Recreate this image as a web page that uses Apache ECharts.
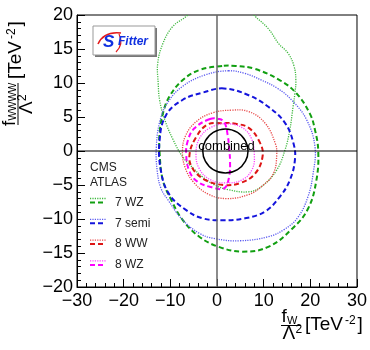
<!DOCTYPE html>
<html>
<head>
<meta charset="utf-8">
<script src="https://cdn.jsdelivr.net/npm/echarts@6/dist/echarts.min.js"></script>
<style>
  html, body { margin: 0; padding: 0; background: #fff; }
  #chart { width: 370px; height: 350px; }
</style>
</head>
<body>
<div id="chart"></div>
<script>
// axis ranges (fW/L^2 horizontally, fWWW/L^2 vertically)
const xRange = [-30, 30]
const xStep = 10
const yRange = [-20, 20]
const yStep = 5

// contour points, [fW, fWWW]
const cms7WZ = [
  [-6.3, 20], [-9.5, 18.3], [-11.6, 15.8], [-12.7, 12.9], [-12.6, 10.0], [-12.3, 7.5],
  [-11.2, 4.6], [-9.5, 1.8], [-7.4, -0.8], [-5.0, -2.6], [-3.1, -3.8], [-0.5, -5.0],
  [2.5, -5.7], [6.8, -6.0], [9.6, -5.2], [12.8, -2.8], [14.6, 0.2], [15.6, 3.1],
  [16.3, 6.5], [16.7, 8.5], [16.9, 10.4], [16.5, 12.5], [15.2, 14.4], [13.2, 15.8],
  [11.0, 18.0], [7.9, 20], [4.0, 23], [-3.0, 23]
]
const atlas7WZ = [
  [1.1, 12.5], [-3.8, 11.9], [-7.4, 10.4], [-10.2, 8.0], [-11.6, 5.5], [-12.3, 2.6],
  [-12.3, -0.3], [-11.6, -4.3], [-9.8, -7.2], [-7.4, -10.1], [-3.8, -12.6], [0.4, -14.1],
  [5.5, -14.8], [11.0, -14.1], [16.0, -11.5], [19.5, -8.5], [21.3, -4.3], [21.7, 0],
  [21.0, 3.1], [19.9, 5.5], [17.0, 8.5], [13.5, 10.4], [8.0, 12.1], [4.0, 12.5]
]
const cms7semi = [
  [2.5, 11.8], [-2.5, 11.2], [-7.4, 9.5], [-10.5, 7.2], [-12.2, 4.5], [-13.0, 0.6],
  [-12.8, -3.0], [-12.0, -5.5], [-10.5, -7.2], [-7.4, -10.1], [-3.8, -12.1], [-0.4, -12.9],
  [5.0, -13.2], [11.0, -12.6], [14.5, -11.5], [17.4, -9.7], [19.5, -6.7], [20.6, -3.3],
  [21.0, 0.6], [19.2, 4.6], [16.0, 7.5], [13.0, 9.2], [9.6, 10.4], [6.0, 11.4]
]
const atlas7semi = [
  [1.5, 9.2], [-3.0, 8.6], [-7.4, 7.5], [-10.9, 5.3], [-12.3, 1.6], [-12.0, -3.0],
  [-10.2, -6.4], [-6.6, -8.7], [-3.1, -9.9], [1.5, -10.2], [6.0, -9.9], [10.3, -8.9],
  [13.5, -6.7], [15.6, -4.3], [16.7, -1.3], [16.4, 1.1], [14.6, 4.1], [11.0, 6.5], [6.8, 8.2]
]
const cms8WW = [
  [3.0, 6.0], [-1.0, 5.6], [-4.5, 4.3], [-6.7, 2.3], [-7.4, 0], [-6.8, -2.5],
  [-5.0, -4.6], [-2.0, -6.3], [2.0, -7.0], [6.8, -6.4], [9.6, -5.2], [12.1, -3.3],
  [12.8, -0.6], [12.5, 1.1], [10.3, 4.1], [6.8, 5.8]
]
const atlas8WW = [
  [1.0, 4.1], [-2.0, 3.9], [-4.5, 2.0], [-5.9, -0.6], [-5.2, -2.6], [-2.4, -4.3],
  [1.5, -5.0], [5.0, -4.7], [8.2, -3.3], [9.8, -0.6], [9.0, 1.5], [6.8, 3.4], [4.0, 4.0]
]
const cms8WZ = [
  [2.0, 4.0], [-1.5, 3.4], [-3.8, 1.8], [-4.5, -0.5], [-3.8, -2.6], [-1.5, -4.2],
  [2.0, -4.7], [5.5, -4.2], [7.6, -2.6], [8.0, -0.5], [7.4, 1.8], [5.5, 3.4]
]
const atlas8WZ = [
  [-1.5, 4.7], [-4.9, 3.3], [-6.3, 1.4], [-6.6, -0.6], [-5.9, -3.0], [-4.2, -4.5],
  [-1.3, -5.3], [1.5, -5.5], [2.6, -3.8], [2.8, -1.6], [2.6, 0.4], [2.3, 2.3],
  [1.6, 4.2], [0.5, 4.7]
]
const combined = [
  [1.8, 3.25], [-0.8, 2.75], [-2.5, 1.5], [-3.05, 0], [-2.5, -1.5], [-0.8, -2.75],
  [1.8, -3.25], [4.4, -2.75], [6.1, -1.5], [6.65, 0], [6.1, 1.5], [4.4, 2.75]
]
const zeroLines = [[[0, -20], [0, 20]], [[-30, 0], [30, 0]]]

const legendNames = ['7 WZ', '7 semi', '8 WW', '8 WZ']
const experiments = ['CMS', 'ATLAS']

const FONT = 'Liberation Sans, Arial, sans-serif'
const colors = {
  '7 WZ': ['#3fb83f', '#119f11'],
  '7 semi': ['#5a5af0', '#1414dc'],
  '8 WW': ['#e84848', '#dd1515'],
  '8 WZ': ['#ff44ff', '#ff00ff'],
}
const dotted = (c) => ({ stroke: c, lineWidth: 1.3, lineDash: [1.2, 1.2] })
const dashed = (c) => ({ stroke: c, lineWidth: 2, lineDash: [5, 3] })

function contour(name, pts, style, z) {
  return {
    name: name,
    type: 'custom',
    clip: true,
    z: z || 2,
    silent: true,
    data: pts,
    encode: { x: 0, y: 1 },
    renderItem: (params, api) => {
      if (params.dataIndex !== 0) return null
      return {
        type: 'polygon',
        shape: { points: pts.map((p) => api.coord(p)), smooth: 0.4 },
        style: Object.assign({ fill: 'none' }, style),
      }
    },
  }
}

const tickFmt = (v) => String(v).replace('-', '\u2212')

function txt(x, y, text, size, extra) {
  return Object.assign({
    type: 'text', x: x, y: y, silent: true,
    style: {
      text: text, font: size + 'px ' + FONT, fill: '#000',
      align: 'left', verticalAlign: 'middle', textAlign: 'left', textVerticalAlign: 'middle',
    },
  }, extra || {})
}

// axis titles as small fractions
const xTitle = {
  type: 'group', x: 291, y: 325.5, silent: true,
  children: [
    txt(-9.5, -8.5, 'f', 19),
    txt(-4, -5, 'W', 11),
    { type: 'line', shape: { x1: -10, y1: 0, x2: 10, y2: 0 }, style: { stroke: '#000', lineWidth: 1 } },
    txt(-8.5, 8.5, '\u039b', 19),
    txt(4.5, 4.5, '2', 12),
    txt(14, -0.5, '[TeV', 19),
    txt(54, -4.5, '-2', 12),
    txt(66.5, -0.5, ']', 19),
  ],
}
const yTitle = {
  type: 'group', x: 18, y: 104, rotation: Math.PI / 2, silent: true,
  children: [
    txt(-22, -8.5, 'f', 19),
    txt(-16.5, -5, 'WWWW', 10),
    { type: 'line', shape: { x1: -21, y1: 0, x2: 21, y2: 0 }, style: { stroke: '#000', lineWidth: 1 } },
    txt(-10, 8.5, '\u039b', 19),
    txt(3, 4.5, '2', 12),
    txt(25, -2.5, '[TeV', 19),
    txt(65, -6.5, '-2', 12),
    txt(77.5, -2.5, ']', 19),
  ],
}

// legend: CMS dotted on top, ATLAS dashed below
const legendEls = [
  txt(90, 167.5, experiments[0], 12, { style: { text: experiments[0], font: '12px ' + FONT, fill: '#222', verticalAlign: 'middle' } }),
  txt(90, 182.5, experiments[1], 12, { style: { text: experiments[1], font: '12px ' + FONT, fill: '#222', verticalAlign: 'middle' } }),
]
legendNames.forEach((n, i) => {
  const cy = 202.5 + i * 20.8
  legendEls.push({ type: 'line', silent: true, shape: { x1: 90, y1: cy - 4, x2: 106, y2: cy - 4 }, style: dotted(colors[n][0]) })
  legendEls.push({ type: 'line', silent: true, shape: { x1: 90, y1: cy, x2: 106, y2: cy }, style: dashed(colors[n][1]) })
  legendEls.push({
    type: 'text', x: 115, y: cy, silent: true,
    style: { text: n, font: '12px ' + FONT, fill: '#222', verticalAlign: 'middle', textVerticalAlign: 'middle' },
  })
})

// S-Fitter logo box
const logo = {
  type: 'group', silent: true, z: 20,
  children: [
    { type: 'rect', shape: { x: 95, y: 28, width: 62, height: 29 }, style: { fill: '#777' } },
    { type: 'rect', shape: { x: 93, y: 26, width: 62, height: 29 }, style: { fill: '#fff', stroke: '#999', lineWidth: 1 } },
    { type: 'bezierCurve', shape: { x1: 98, y1: 44, cpx1: 104, cpy1: 31, x2: 121, y2: 33 }, style: { fill: 'none', stroke: '#e31b1b', lineWidth: 1.6 } },
    { type: 'bezierCurve', shape: { x1: 119, y1: 34, cpx1: 124, cpy1: 44, x2: 116, y2: 52 }, style: { fill: 'none', stroke: '#e31b1b', lineWidth: 1.2 } },
    { type: 'text', x: 103, y: 42, style: { text: 'S', font: 'italic bold 17px ' + FONT, fill: '#1030e0', verticalAlign: 'middle', textVerticalAlign: 'middle' } },
    { type: 'text', x: 118, y: 41.5, style: { text: 'Fitter', font: 'italic bold 12px ' + FONT, fill: '#1030e0', verticalAlign: 'middle', textVerticalAlign: 'middle' } },
  ],
}

const option = {
  animation: false,
  backgroundColor: '#fff',
  grid: {
    left: 77, right: 11, top: 15, bottom: 63,
    show: true, borderColor: '#000', borderWidth: 1, backgroundColor: 'transparent',
  },
  xAxis: {
    type: 'value', min: xRange[0], max: xRange[1], interval: xStep,
    axisLine: { show: true, onZero: false, lineStyle: { color: '#000', width: 1 } },
    axisTick: { show: true, inside: true, length: 8, lineStyle: { color: '#000' } },
    minorTick: { show: true, splitNumber: 5, length: 4, lineStyle: { color: '#000' } },
    splitLine: { show: false },
    axisLabel: { color: '#000', fontFamily: FONT, fontSize: 18, margin: 5, formatter: tickFmt },
  },
  yAxis: {
    type: 'value', min: yRange[0], max: yRange[1], interval: yStep,
    axisLine: { show: true, onZero: false, lineStyle: { color: '#000', width: 1 } },
    axisTick: { show: true, inside: true, length: 8, lineStyle: { color: '#000' } },
    minorTick: { show: true, splitNumber: 5, length: 4, lineStyle: { color: '#000' } },
    splitLine: { show: false },
    axisLabel: { color: '#000', fontFamily: FONT, fontSize: 18, margin: 4, formatter: tickFmt },
  },
  series: [
    contour('CMS 7 WZ', cms7WZ, dotted(colors['7 WZ'][0])),
    contour('ATLAS 7 WZ', atlas7WZ, dashed(colors['7 WZ'][1])),
    contour('CMS 7 semi', cms7semi, dotted(colors['7 semi'][0])),
    contour('ATLAS 7 semi', atlas7semi, dashed(colors['7 semi'][1])),
    contour('CMS 8 WW', cms8WW, dotted(colors['8 WW'][0])),
    contour('ATLAS 8 WW', atlas8WW, dashed(colors['8 WW'][1])),
    contour('CMS 8 WZ', cms8WZ, dotted(colors['8 WZ'][0])),
    contour('ATLAS 8 WZ', atlas8WZ, dashed(colors['8 WZ'][1])),
    {
      name: 'axes at zero',
      type: 'custom',
      z: 3,
      silent: true,
      data: zeroLines,
      renderItem: (params, api) => {
        const seg = zeroLines[params.dataIndex]
        const a = api.coord(seg[0])
        const b = api.coord(seg[1])
        const vertical = params.dataIndex === 0
        return {
          type: 'line',
          shape: { x1: a[0], y1: a[1], x2: b[0], y2: b[1] },
          style: { stroke: vertical ? '#666' : '#000', lineWidth: vertical ? 1.5 : 1 },
        }
      },
    },
    contour('combined', combined, { stroke: '#000', lineWidth: 1.5 }, 4),
  ],
  graphic: [
    xTitle,
    yTitle,
    { type: 'group', silent: true, z: 10, children: legendEls },
    logo,
    txt(226.5, 146, 'combined', 13, {
      z: 10,
      style: { text: 'combined', font: '13px ' + FONT, fill: '#000', align: 'center', textAlign: 'center', verticalAlign: 'middle', textVerticalAlign: 'middle' },
    }),
  ],
}

const dom = document.getElementById('chart')
const chart = echarts.init(dom)
chart.setOption(option)
window.addEventListener('resize', () => chart.resize())
</script>
</body>
</html>
